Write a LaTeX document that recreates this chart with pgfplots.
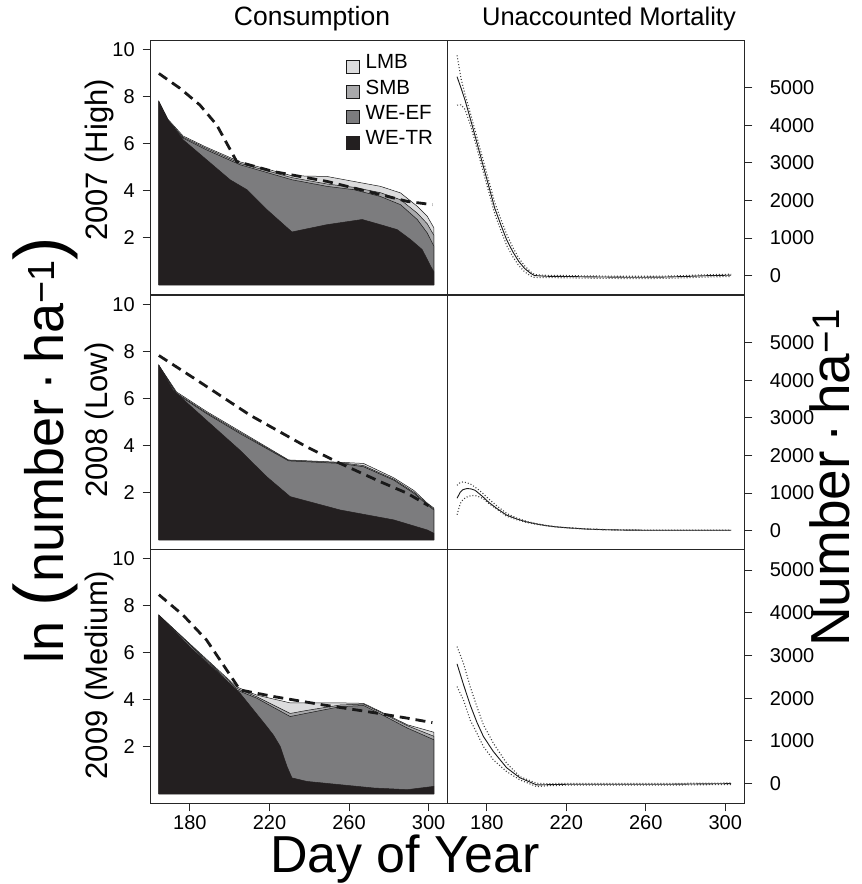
\documentclass[border=0pt]{standalone}
\usepackage{pgfplots}
\pgfplotsset{compat=1.18}
\usepackage{fontspec}
\setmainfont{Liberation Sans}
\definecolor{cTR}{HTML}{231F20}
\definecolor{cEF}{HTML}{7C7C7E}
\definecolor{cSMB}{HTML}{A9A9AB}
\definecolor{cLMB}{HTML}{DCDCDD}
\pgfplotsset{
  base/.style={scale only axis, width=297pt, height=254pt,
    xmin=160.3, xmax=309.6,
    axis line style={black!85, line width=1.1pt},
    tick style={black!85, line width=1pt},
    tick align=outside, major tick length=8pt,
    tick label style={font=\fontsize{20}{24}\selectfont},
    xticklabel style={yshift=-1pt},
    /pgf/number format/assume math mode=true,
    /pgf/number format/set thousands separator={},
    xtick pos=bottom},
  leftp/.style={base, ymin=-0.4, ymax=10.4, ytick={2,4,6,8,10}, ytick pos=left,
    yticklabel style={xshift=-4.5pt}},
  rightp/.style={base, ytick={0,1000,2000,3000,4000,5000}, ytick pos=right, yticklabel pos=right,
    yticklabel style={xshift=14pt}},
  noxt/.style={xtick=\empty},
  botx/.style={xtick={180,220,260,300}},
  lay/.style={draw=black!90, line width=0.5pt, fill=#1},
  dsh/.style={black!90, line width=2.8pt, dash pattern=on 10pt off 6pt},
  sol/.style={black!90, line width=0.9pt},
  dot/.style={black!75, line width=1.1pt, dash pattern=on 1pt off 2pt},
}
\begin{document}
\begin{tikzpicture}
\useasboundingbox (0,0) rectangle (862pt,884pt);
% ---------------- 2007 consumption
\begin{axis}[leftp, noxt, at={(150.7pt,589.7pt)}, anchor=south west,
  legend style={at={(rel axis cs:0.6475,0.955)}, anchor=north west, draw=none, fill=none,
    font=\fontsize{20.5}{24}\selectfont, row sep=0pt,
    nodes={inner xsep=6pt, inner ysep=0pt, text height=15pt, text depth=10.3pt}},
  legend cell align=left,
  legend image code/.code={\draw[#1] (0pt,-6.5pt) rectangle (13pt,6.5pt);}]
\addplot[lay=cLMB] coordinates {(164.4,7.79) (169,7.04) (176.6,6.33) (188.4,5.85) (205.2,5.23) (231.3,4.64) (248.9,4.61) (262.3,4.40) (275.8,4.19) (285.9,3.91) (294.3,3.34) (299.3,2.92) (302.7,2.42)} \closedcycle;
\addlegendentry{LMB}
\addplot[lay=cSMB] coordinates {(164.4,7.79) (169,7.0) (176.6,6.28) (188.4,5.8) (205.2,5.17) (231.3,4.56) (248.9,4.29) (262.3,4.15) (275.8,3.92) (285.9,3.62) (294.3,3.05) (299.3,2.6) (302.7,2.1)} \closedcycle;
\addlegendentry{SMB}
\addplot[lay=cEF] coordinates {(164.4,7.79) (169,6.97) (176.6,6.24) (188.4,5.74) (205.2,5.11) (231.3,4.47) (248.9,4.19) (262.3,4.05) (275.8,3.76) (285.9,3.41) (294.3,2.78) (299.3,2.21) (302.7,1.64)} \closedcycle;
\addlegendentry{WE-EF}
\addplot[lay=cTR, draw=cTR] coordinates {(164.4,7.79) (169,7.01) (176.6,6.17) (188.4,5.32) (200.2,4.47) (208.6,4.05) (218.7,3.20) (231.3,2.25) (248.9,2.56) (266.6,2.78) (275.8,2.56) (284.2,2.35) (290.9,1.93) (296.8,1.5) (301,0.8) (302.7,0.55)} \closedcycle;
\addlegendentry{WE-TR}
\addplot[dsh, forget plot] coordinates {(164.4,8.99) (175,8.36) (185,7.65) (193.5,6.80) (203.5,5.25) (222,4.82) (248.9,4.40) (272.4,3.91) (289.3,3.55) (301.9,3.41)};
\end{axis}
% ---------------- 2007 mortality
\begin{axis}[rightp, noxt, at={(447.7pt,589.7pt)}, anchor=south west, width=296.6pt, ymin=-500, ymax=6270]
\addplot[sol] coordinates {(165,5300) (167,5000) (169,4680) (172,4120) (175,3540) (178,2955) (181,2375) (184,1790) (187,1360) (190,950) (193,640) (196,380) (199,190) (202,60) (204,0) (210,-20) (220,-25) (230,-35) (240,-40) (250,-45) (260,-45) (270,-40) (280,-25) (290,-5) (303,10)};
\addplot[dot] coordinates {(165,5870) (167,5250) (169,4830) (172,4270) (175,3690) (178,3105) (181,2525) (184,1940) (187,1510) (190,1100) (193,760) (196,470) (199,260) (202,100) (204,25) (210,5) (220,0) (230,-10) (240,-15) (250,-20) (260,-20) (270,-15) (280,0) (290,20) (303,35)};
\addplot[dot] coordinates {(165,4540) (167,4550) (169,4430) (172,3970) (175,3390) (178,2805) (181,2225) (184,1640) (187,1210) (190,800) (193,510) (196,270) (199,100) (202,-10) (204,-50) (210,-55) (220,-60) (230,-70) (240,-75) (250,-80) (260,-80) (270,-75) (280,-60) (290,-40) (303,-25)};
\end{axis}
% ---------------- 2008 consumption
\begin{axis}[leftp, noxt, at={(150.7pt,334.7pt)}, anchor=south west]
\addplot[lay=cLMB] coordinates {(164.4,7.42) (173.3,6.29) (188.4,5.46) (205.2,4.62) (229.6,3.40) (255.6,3.30) (267.3,3.25) (282.5,2.64) (292.6,2.10) (299.4,1.56) (302.7,1.35)} \closedcycle;
\addplot[lay=cSMB] coordinates {(164.4,7.42) (173.3,6.24) (188.4,5.41) (205.2,4.57) (229.6,3.38) (255.6,3.28) (267.3,3.16) (282.5,2.58) (292.6,2.03) (299.4,1.52) (302.7,1.31)} \closedcycle;
\addplot[lay=cEF] coordinates {(164.4,7.42) (173.3,6.21) (188.4,5.37) (205.2,4.52) (229.6,3.36) (255.6,3.25) (267.3,3.11) (282.5,2.54) (292.6,1.98) (299.4,1.48) (302.7,1.27)} \closedcycle;
\addplot[lay=cTR, draw=cTR] coordinates {(164.4,7.42) (171.6,6.36) (188.4,5.08) (205.2,3.81) (218.7,2.68) (230.4,1.84) (255.6,1.27) (282.5,0.85) (299.4,0.42) (302.7,0.28)} \closedcycle;
\addplot[dsh] coordinates {(164.4,7.84) (182.5,6.85) (210.3,5.30) (238.8,3.95) (255.6,3.25) (275.8,2.47) (289.3,1.98) (300,1.45)};
\end{axis}
% ---------------- 2008 mortality
\begin{axis}[rightp, noxt, at={(447.7pt,334.7pt)}, anchor=south west, width=296.6pt, ymin=-500, ymax=6270]
\addplot[sol] coordinates {(165,860) (166.6,1020) (168,1090) (170,1120) (172,1110) (174,1075) (176,990) (178,900) (181,750) (185,590) (190,410) (195,310) (200,230) (205,175) (210,130) (215,97) (220,75) (230,40) (240,22) (250,12) (260,8) (270,8) (280,8) (290,8) (303,8)};
\addplot[dot] coordinates {(165,1205) (166.6,1280) (168,1295) (170,1275) (172,1230) (174,1160) (176,1080) (178,990) (181,840) (185,660) (190,455) (195,335) (200,245) (205,185) (210,135) (215,100) (220,78) (230,43) (240,25) (250,15) (260,11) (270,11) (280,11) (290,11) (303,11)};
\addplot[dot] coordinates {(165,420) (166.6,718) (168,830) (170,894) (172,930) (174,935) (176,900) (178,855) (181,720) (185,570) (190,380) (195,290) (200,215) (205,165) (210,125) (215,93) (220,72) (230,37) (240,19) (250,9) (260,5) (270,5) (280,5) (290,5) (303,5)};
\end{axis}
% ---------------- 2009 consumption
\begin{axis}[leftp, botx, at={(150.7pt,80.7pt)}, anchor=south west]
\addplot[lay=cLMB] coordinates {(164.4,7.60) (180,6.38) (203.5,4.55) (213.6,4.2) (230.4,3.87) (255.6,3.87) (267.3,3.85) (275.8,3.50) (289.3,2.94) (302.7,2.62)} \closedcycle;
\addplot[lay=cSMB] coordinates {(164.4,7.60) (180,6.36) (203.5,4.49) (213.6,4.13) (230.4,3.42) (238.8,3.55) (255.6,3.78) (267.3,3.82) (275.8,3.47) (289.3,2.9) (302.7,2.45)} \closedcycle;
\addplot[lay=cEF] coordinates {(164.4,7.60) (180,6.33) (203.5,4.42) (213.6,4.07) (230.4,3.29) (238.8,3.43) (255.6,3.71) (267.3,3.76) (275.8,3.40) (289.3,2.80) (302.7,2.30)} \closedcycle;
\addplot[lay=cTR, draw=cTR] coordinates {(164.4,7.60) (180,6.25) (205.2,4.28) (218.7,2.86) (222,2.5) (225.4,2.02) (228.8,1.17) (231.3,0.68) (238.8,0.53) (255.6,0.39) (272.4,0.25) (289.3,0.18) (302.7,0.32)} \closedcycle;
\addplot[dsh] coordinates {(164.4,8.47) (176.6,7.60) (188.4,6.54) (198.5,5.27) (205.2,4.42) (222,4.14) (247.2,3.78) (269.1,3.50) (289.3,3.22) (301.9,3.03)};
\end{axis}
% ---------------- 2009 mortality
\begin{axis}[rightp, botx, at={(447.7pt,80.7pt)}, anchor=south west, width=296.6pt, ymin=-460, ymax=5485]
\addplot[sol] coordinates {(165,2803) (168.2,2325) (171.6,1846) (175,1436) (178.3,1101) (183.3,751) (190,370) (196.7,136) (205.1,-30) (210,-25) (220,-15) (230,-15) (240,-15) (250,-15) (260,-15) (270,-15) (280,-10) (290,-5) (303,0)};
\addplot[dot] coordinates {(165,3208) (168.2,2820) (171.6,2272) (175,1803) (178.3,1375) (183.3,946) (190,478) (196.7,164) (205.1,9) (210,0) (220,5) (230,5) (240,5) (250,5) (260,5) (270,5) (280,8) (290,12) (303,15)};
\addplot[dot] coordinates {(165,2272) (168.2,1960) (171.6,1492) (175,1180) (178.3,867) (183.3,555) (190,281) (196.7,87) (205.1,-70) (210,-50) (220,-35) (230,-35) (240,-35) (250,-35) (260,-35) (270,-35) (280,-30) (290,-25) (303,-20)};
\end{axis}
% ---------------- text
\node[font=\fontsize{26.5}{30}\selectfont] at (312pt,865pt) {Consumption};
\node[font=\fontsize{25.5}{30}\selectfont] at (609pt,865pt) {Unaccounted Mortality};
\node[font=\fontsize{31}{36}\selectfont, rotate=90] at (99pt,724pt) {2007 (High)};
\node[font=\fontsize{31}{36}\selectfont, rotate=90] at (99pt,464pt) {2008 (Low)};
\node[font=\fontsize{31}{36}\selectfont, rotate=90] at (99pt,209pt) {2009 (Medium)};
\node[font=\fontsize{54}{60}\selectfont, rotate=90] at (45pt,434pt) {ln {\fontsize{70}{70}\selectfont(}number\,·\,ha\textsuperscript{−1}{\fontsize{70}{70}\selectfont)}};
\node[font=\fontsize{55}{60}\selectfont, rotate=90, anchor=base, inner sep=0pt] at (849pt,406pt) {Number\,·\,ha\textsuperscript{−1}};
\node[font=\fontsize{52}{60}\selectfont, anchor=base, inner sep=0pt] at (405pt,11.5pt) {Day of Year};
\end{tikzpicture}
\end{document}
